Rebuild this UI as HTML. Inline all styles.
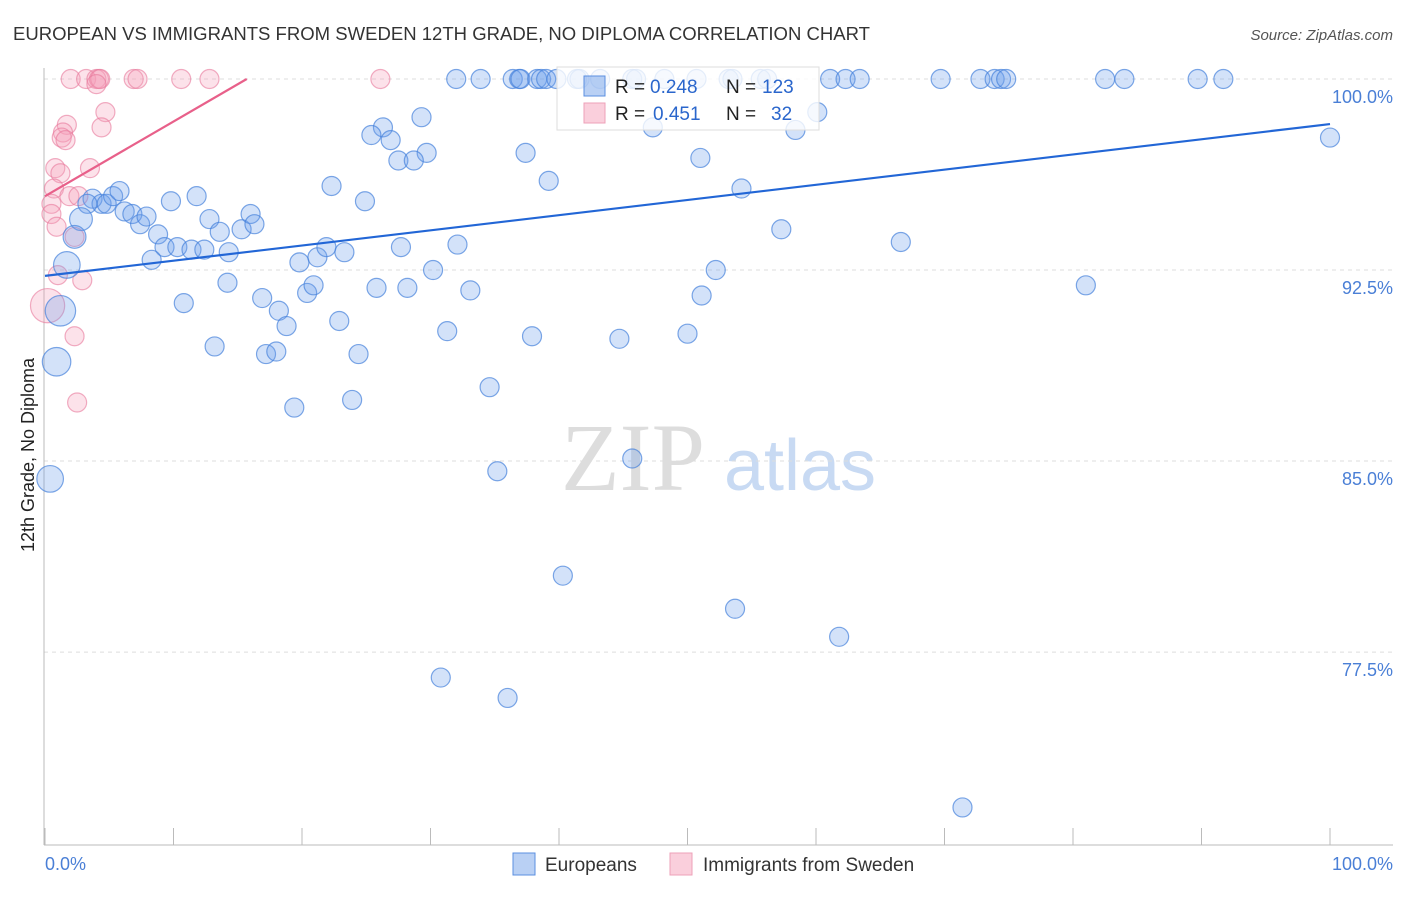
<!DOCTYPE html>
<html><head><meta charset="utf-8"><style>
body{margin:0;background:#fff;font-family:"Liberation Sans",sans-serif;}
</style></head><body>
<svg id="chart" width="1406" height="892" xmlns="http://www.w3.org/2000/svg">
<text x="13" y="40" font-size="18" fill="#333" textLength="857" lengthAdjust="spacingAndGlyphs">EUROPEAN VS IMMIGRANTS FROM SWEDEN 12TH GRADE, NO DIPLOMA CORRELATION CHART</text>
<text x="1393" y="40" font-size="15" fill="#555" font-style="italic" text-anchor="end">Source: ZipAtlas.com</text>
<text transform="translate(34,455) rotate(-90)" font-size="18" fill="#222" text-anchor="middle">12th Grade, No Diploma</text>
<g><text x="633" y="490" font-size="96" font-family="Liberation Serif,serif" fill="#ddd" text-anchor="middle">ZIP</text><text x="800" y="490" font-size="72" fill="#c8daf3" text-anchor="middle">atlas</text></g>
<g id="grid"></g><g id="axes"></g><g id="pts"></g><g id="lines"></g>
<g>
<rect x="557" y="67" width="262" height="63" fill="rgba(255,255,255,0.8)" stroke="#ddd"/>
<rect x="584" y="76" width="21" height="20" fill="rgba(100,150,230,0.45)" stroke="#5b8fe0"/>
<rect x="584" y="103" width="21" height="20" fill="rgba(245,160,185,0.5)" stroke="#eea0b8"/>
<text x="615" y="93" font-size="19" fill="#222">R =</text>
<text x="650" y="93" font-size="19" fill="#2a66cc">0.248</text>
<text x="726" y="93" font-size="19" fill="#222">N =</text>
<text x="762" y="93" font-size="19" fill="#2a66cc">123</text>
<text x="615" y="120" font-size="19" fill="#222">R =</text>
<text x="653" y="120" font-size="19" fill="#2a66cc">0.451</text>
<text x="726" y="120" font-size="19" fill="#222">N =</text>
<text x="771" y="120" font-size="19" fill="#2a66cc">32</text>
</g>
<g>
<rect x="513" y="853" width="22" height="22" fill="rgba(100,150,230,0.45)" stroke="#5b8fe0"/>
<text x="545" y="871" font-size="19" fill="#333">Europeans</text>
<rect x="670" y="853" width="22" height="22" fill="rgba(245,160,185,0.5)" stroke="#eea0b8"/>
<text x="703" y="871" font-size="19" fill="#333">Immigrants from Sweden</text>
</g>
</svg>
<script>
const yTicks=[100,92.5,85,77.5];
const yTickLabels=["100.0%","92.5%","85.0%","77.5%"];
const xTickVals=[0,10,20,30,40,50,60,70,80,90,100];
const euroX=[32.0,33.9,36.4,36.9,37.0,38.3,38.6,39.0,39.8,41.4,41.6,43.2,45.7,46.0,48.2,50.7,53.2,53.5,55.7,56.2,61.1,62.3,63.4,69.7,72.8,73.9,74.4,74.8,82.5,84.0,89.7,91.7,
26.3,25.4,26.9,29.3,29.7,27.5,28.7,22.3,24.9,37.4,39.2,51.0,47.3,58.4,60.1,54.2,100,57.3,66.6,81.0,52.2,51.1,50.0,44.7,45.7,37.9,31.3,34.6,35.2,40.3,53.7,61.8,30.8,36.0,71.4,
3.7,4.4,4.8,5.3,5.8,3.3,2.8,2.3,1.7,1.2,0.9,0.4,6.2,6.8,7.4,7.9,8.8,9.3,10.3,11.4,12.4,9.8,11.8,12.8,13.6,14.3,15.3,16.0,16.3,8.3,10.8,13.2,14.2,16.9,17.2,18.0,18.2,18.8,19.4,19.8,20.4,20.9,21.2,21.9,22.9,23.3,24.4,23.9,25.8,28.2,27.7,30.2,32.1,33.1];
const euroY=[100,100,100,100,100,100,100,100,100,100,100,100,100,100,100,100,100,100,100,100,100,100,100,100,100,100,100,100,100,100,100,100,
98.1,97.8,97.6,98.5,97.1,96.8,96.8,95.8,95.2,97.1,96.0,96.9,98.1,98.0,98.7,95.7,97.7,94.1,93.6,91.9,92.5,91.5,90.0,89.8,85.1,89.9,90.1,87.9,84.6,80.5,79.2,78.1,76.5,75.7,71.4,
95.3,95.1,95.1,95.4,95.6,95.1,94.5,93.8,92.7,90.9,88.9,84.3,94.8,94.7,94.3,94.6,93.9,93.4,93.4,93.3,93.3,95.2,95.4,94.5,94.0,93.2,94.1,94.7,94.3,92.9,91.2,89.5,92.0,91.4,89.2,89.3,90.9,90.3,87.1,92.8,91.6,91.9,93.0,93.4,90.5,93.2,89.2,87.4,91.8,91.8,93.4,92.5,93.5,91.7];
const euroSize=[];for(let i=0;i<euroX.length;i++)euroSize.push(1);
euroSize[73]=1.2;euroSize[74]=1.2;euroSize[75]=1.4;euroSize[76]=1.6;euroSize[77]=1.5;euroSize[78]=1.4;
const swedX=[2.0,3.2,4.0,4.2,4.3,6.9,7.2,10.6,12.8,26.1,4.0,4.7,4.4,1.7,1.4,1.3,1.6,0.8,1.2,3.5,0.7,1.9,2.6,0.5,0.5,0.9,2.3,1.0,2.9,0.2,2.3,2.5];
const swedY=[100,100,100,100,100,100,100,100,100,100,99.8,98.7,98.1,98.2,97.9,97.7,97.6,96.5,96.3,96.5,95.7,95.4,95.4,95.1,94.7,94.2,93.8,92.3,92.1,91.1,89.9,87.3];
const swedSize=[1,1,1,1,1,1,1,1,1,1,1,1,1,1,1,1,1,1,1,1,1,1,1,1,1,1,1,1,1,1.8,1,1];
const euroTrend=[92.27,98.23];
const swedTrend=[95.4,124.7];
const NS="http://www.w3.org/2000/svg";
const sx=v=>45+v*12.85;
const sy=v=>79+(100-v)*25.47;
function mk(tag,attrs,parent){const e=document.createElementNS(NS,tag);for(const k in attrs)e.setAttribute(k,attrs[k]);document.getElementById(parent).appendChild(e);return e;}
yTicks.forEach((t,i)=>{
 const g=mk('line',{x1:44,x2:1393,y1:sy(t),y2:sy(t),stroke:'#ddd','stroke-dasharray':'4,4'},'grid');
 
 
 const l=mk('text',{x:1393,y:sy(t)+24,'font-size':18,fill:'#4a7fd6','text-anchor':'end'},'grid');
 l.textContent=yTickLabels[i];
 
 
});
const ya=mk('line',{x1:44,x2:44,y1:68,y2:845,stroke:'#bbb'},'axes');


const xa=mk('line',{x1:44,x2:1393,y1:845,y2:845,stroke:'#bbb'},'axes');


xTickVals.forEach(v=>{
 const t=mk('line',{x1:sx(v),x2:sx(v),y1:828,y2:845,stroke:'#bbb'},'axes');
 
 
});
const xl0=mk('text',{x:45,y:870,'font-size':18,fill:'#4a7fd6'},'axes');xl0.textContent='0.0%';


const xl1=mk('text',{x:1393,y:870,'font-size':18,fill:'#4a7fd6','text-anchor':'end'},'axes');xl1.textContent='100.0%';


swedX.forEach((x,i)=>{
 const c=mk('circle',{cx:sx(x),cy:sy(swedY[i]),r:9.5*swedSize[i],fill:'rgba(245,160,185,0.3)',stroke:'rgba(232,120,155,0.6)','stroke-width':1.2},'pts');
 
 
});
euroX.forEach((x,i)=>{
 const c=mk('circle',{cx:sx(x),cy:sy(euroY[i]),r:9.5*euroSize[i],fill:'rgba(110,160,235,0.3)',stroke:'rgba(70,130,220,0.7)','stroke-width':1.2},'pts');
 
 
});
const bl=mk('line',{x1:sx(0),y1:sy(euroTrend[0]),x2:sx(100),y2:sy(euroTrend[1]),stroke:'#2266d6','stroke-width':2.2},'lines');


const xEnd=(100-swedTrend[0])/(swedTrend[1]-swedTrend[0])*100;
const pl=mk('line',{x1:sx(0),y1:sy(swedTrend[0]),x2:sx(xEnd),y2:sy(100),stroke:'#e8608a','stroke-width':2.2},'lines');


</script>
</body></html>
